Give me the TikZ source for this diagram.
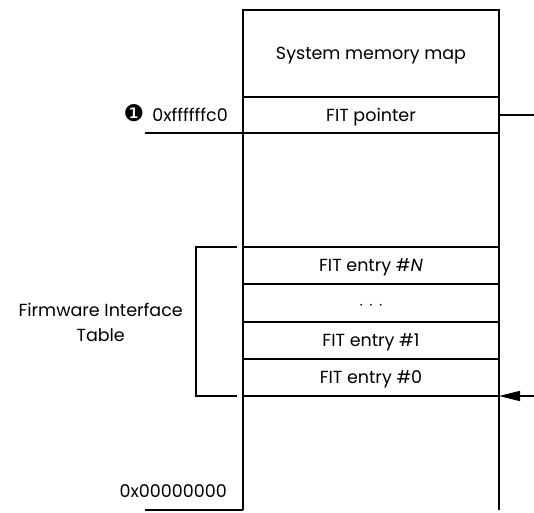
\documentclass[tikz,border=0pt]{standalone}
\usepackage{fontspec}
\setmainfont{Poppins}
\newfontfamily\dingfont{DejaVu Sans}
\usetikzlibrary{positioning,arrows.meta}

\begin{document}
\begin{tikzpicture}[
  x=1pt, y=1pt,
  node distance=0pt,
  font=\fontsize{17.5pt}{25pt}\selectfont,
  cell/.style={draw, line width=2.5pt, minimum width=256pt, inner sep=0pt, outer sep=0pt,
    text height=12.5pt, text depth=0pt},
  tick/.style={line width=2.5pt},
  bracket/.style={line width=2.2pt},
  pointer/.style={line width=1.5pt},
  arrow/.style={-{Triangle[length=21pt,width=10pt]}, line width=1.5pt}
]
\useasboundingbox (0,0) rectangle (534,-512);

% Nodes
\node[cell, minimum height=87pt, anchor=north] (map) at (371,-10) {System memory map};
\node[cell, minimum height=36pt, below=of map] (ptr) {FIT pointer};
\node[cell, minimum height=114pt, below=of ptr] (gap) {};
\node[cell, minimum height=37pt, below=of gap] (entN) {FIT entry \#\textit{N}};
\node[cell, minimum height=38pt, below=of entN] (dots) {$\cdot$\hspace{5pt}$\cdot$\hspace{5pt}$\cdot$};
\node[cell, minimum height=37pt, below=of dots] (ent1) {FIT entry \#1};
\node[cell, minimum height=37pt, below=of ent1] (ent0) {FIT entry \#0};
\node[minimum width=256pt, minimum height=114pt, inner sep=0pt, outer sep=0pt, below=of ent0] (low) {};

% Labels
\node[left=15pt of ptr.west, inner sep=0pt, text height=12.5pt, text depth=0pt] (hi)
  {{\dingfont\fontsize{23pt}{25pt}\selectfont ❶}\hspace{8pt}0xffffffc0};
\node[above left=12pt and 16pt of low.south west, inner sep=0pt] (lo) {0x00000000};
\node[left=60pt of dots.south west, inner sep=0pt, align=center] (fit) {Firmware Interface\\Table};

% Coordinates
\coordinate[left=98pt of ptr.south west] (hitick);
\coordinate[left=98pt of low.south west] (lotick);
\coordinate[left=6pt of entN.north west] (brtop);
\coordinate[left=6pt of ent0.south west] (brbot);
\coordinate (ptrend) at (534,0 |- ptr.east);
\coordinate (arrstart) at (534,0 |- ent0.south east);

% Lines
\draw[tick] (low.north west) -- (low.south west);
\draw[tick] (low.north east) -- (low.south east);
\draw[tick] (ptr.south west) -- (hitick);
\draw[tick] (low.south west) -- (lotick);
\draw[bracket] (brtop) -- ++(-41,0) |- (brbot);
\draw[pointer] (ptr.east) -- (ptrend);
\draw[arrow] (arrstart) -- (ent0.south east);
\end{tikzpicture}
\end{document}
